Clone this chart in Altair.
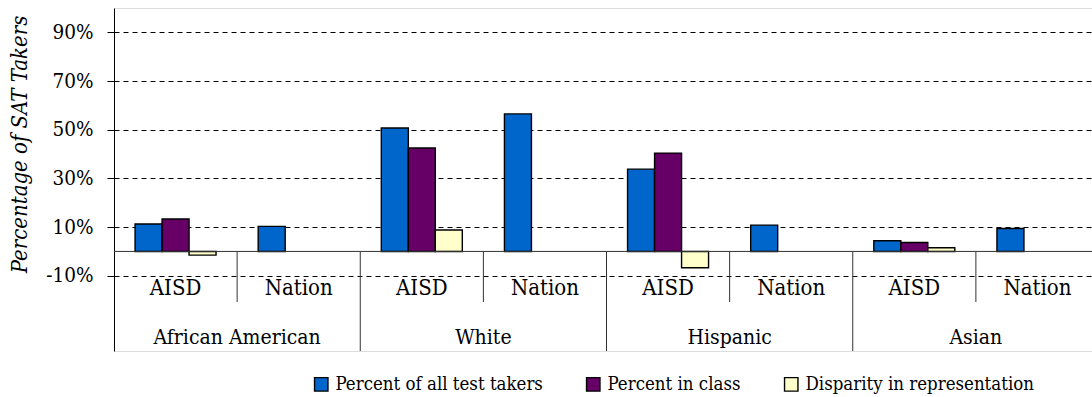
import altair as alt
import pandas as pd

# ---- data ----
groups = ["African American", "White", "Hispanic", "Asian"]
subs = ["AISD", "Nation"]
series_names = ["Percent of all test takers", "Percent in class", "Disparity in representation"]
series_colors = ["#0066CC", "#660066", "#FFFFCC"]

pct_all_aisd = [11.3, 50.7, 33.8, 4.4]
pct_all_nation = [10.3, 56.5, 10.8, 9.4]
pct_class_aisd = [13.3, 42.5, 40.4, 3.7]
disparity_aisd = [-1.5, 8.8, -6.7, 1.5]

y_ticks = [-10, 10, 30, 50, 70, 90]

FONT = "'DejaVu Serif Condensed', 'DejaVu Serif'"

keys = [f"{g}|{s}" for g in groups for s in subs]

rows = []
for i, g in enumerate(groups):
    rows.append({"key": f"{g}|AISD", "series": series_names[0], "value": pct_all_aisd[i]})
    rows.append({"key": f"{g}|AISD", "series": series_names[1], "value": pct_class_aisd[i]})
    rows.append({"key": f"{g}|AISD", "series": series_names[2], "value": disparity_aisd[i]})
    rows.append({"key": f"{g}|Nation", "series": series_names[0], "value": pct_all_nation[i]})
bar_df = pd.DataFrame(rows)

sub_df = pd.DataFrame({"key": keys, "label": [k.split("|")[1] for k in keys]})
grp_df = pd.DataFrame({"key": [f"{g}|Nation" for g in groups], "label": groups})
sep_sub_df = pd.DataFrame({"key": [f"{g}|Nation" for g in groups]})
sep_grp_df = pd.DataFrame({"key": [f"{g}|AISD" for g in groups[1:]]})

xscale = alt.Scale(domain=keys, range=[0, 985], paddingInner=0, paddingOuter=0)
yscale = alt.Scale(domain=[-40.9, 100], nice=False, zero=False)

bars = alt.Chart(bar_df).mark_bar(stroke="black", strokeWidth=1.4).encode(
    x=alt.X("key:N", scale=xscale, axis=None),
    xOffset=alt.XOffset("series:N", scale=alt.Scale(domain=series_names, paddingInner=0, paddingOuter=0.78)),
    y=alt.Y(
        "value:Q",
        scale=yscale,
        title="Percentage of SAT Takers",
        axis=alt.Axis(
            values=y_ticks,
            labelExpr="datum.value + '%'",
            grid=True,
            gridDash=[5, 4],
            gridColor="black",
            gridWidth=1,
            domainColor="black",
            tickColor="black",
            tickSize=7,
            labelPadding=14,
            labelFont=FONT,
            labelFontSize=20.5,
            labelColor="black",
            titleFont=FONT,
            titleFontSize=22,
            titleFontStyle="italic",
            titleFontWeight="normal",
            titleColor="black",
            titleAngle=270,
            titleAlign="center",
            titleBaseline="alphabetic",
            titleX=-88,
            titleY=136,
        ),
    ),
    y2=alt.datum(0),
    color=alt.Color(
        "series:N",
        scale=alt.Scale(domain=series_names, range=series_colors),
        legend=alt.Legend(
            title=None,
            orient="none",
            legendX=198,
            legendY=367,
            direction="horizontal",
            symbolType="square",
            symbolSize=180,
            symbolStrokeColor="black",
            symbolStrokeWidth=1.4,
            labelFont=FONT,
            labelFontSize=18.5,
            labelColor="black",
            labelOffset=5,
            columnPadding=40,
            labelLimit=400,
            padding=0,
        ),
    ),
)

zero_rule = alt.Chart(pd.DataFrame({"z": [0]})).mark_rule(color="#333333", strokeWidth=1).encode(
    y=alt.datum(0)
)

sep_sub = alt.Chart(sep_sub_df).mark_rule(color="#333333", strokeWidth=1).encode(
    x=alt.X("key:N", bandPosition=0, scale=xscale, axis=None),
    y=alt.value(244),
    y2=alt.value(294),
)

sep_grp = alt.Chart(sep_grp_df).mark_rule(color="#333333", strokeWidth=1).encode(
    x=alt.X("key:N", bandPosition=0, scale=xscale, axis=None),
    y=alt.value(244),
    y2=alt.value(343),
)

sub_text = alt.Chart(sub_df).mark_text(
    font=FONT, fontSize=22, baseline="alphabetic", align="center", color="black"
).encode(
    x=alt.X("key:N", scale=xscale, axis=None),
    y=alt.value(287),
    text="label:N",
)

grp_text = alt.Chart(grp_df).mark_text(
    font=FONT, fontSize=21, baseline="alphabetic", align="center", color="black"
).encode(
    x=alt.X("key:N", bandPosition=0, scale=xscale, axis=None),
    y=alt.value(336),
    text="label:N",
)

chart = (
    alt.layer(bars, zero_rule, sep_sub, sep_grp, sub_text, grp_text)
    .properties(
        width=978,
        height=343,
        autosize=alt.AutoSizeParams(type="none"),
        padding={"left": 114, "top": 8, "right": 0, "bottom": 46},
    )
    .configure_view(stroke="transparent")
    .configure(font=FONT, background="white")
)

chart.save("out.html", embed_options={"renderer": "svg", "actions": False})
